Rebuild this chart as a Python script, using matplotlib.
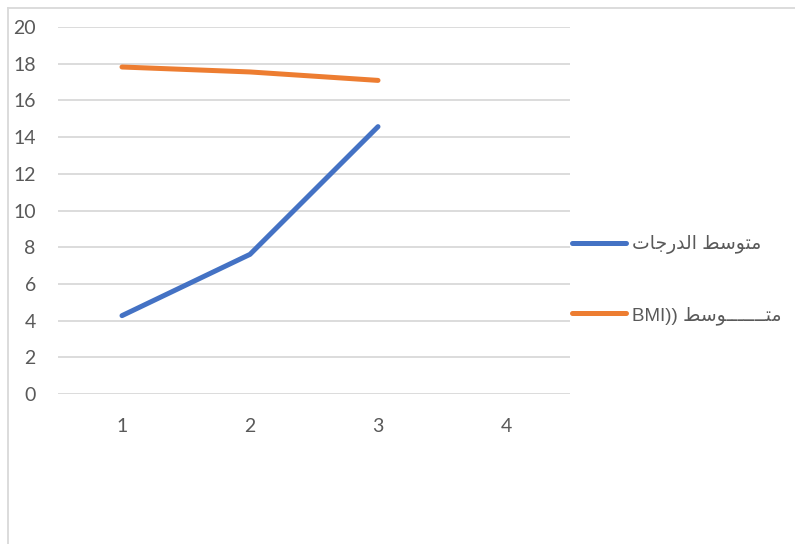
import matplotlib.pyplot as plt
from matplotlib.lines import Line2D

# matplotlib does no Arabic shaping or bidi, so the legend labels are
# written with presentation forms in display (left-to-right) order
series_names = [
    "\ufe95\ufe8e\ufe9f\ufead\ufeaa\ufedf\ufe8d \ufec2\ufeb3\ufeee\ufe98\ufee3",  # متوسط الدرجات
    "BMI)) \ufec2\ufeb3\ufeee" + "\u0640" * 7 + "\ufe98\ufee3",                   # متـــــوسط ((BMI
]
categories = [1, 2, 3, 4]
grades_mean = [4.27, 7.61, 14.57]
bmi_mean = [17.82, 17.55, 17.09]
y_ticks = [0, 2, 4, 6, 8, 10, 12, 14, 16, 18, 20]

BLUE = "#4472c4"
ORANGE = "#ed7d31"
GRID = "#d9d9d9"
TEXT = "#595959"

W, H = 795, 544
fig = plt.figure(figsize=(W / 100, H / 100), dpi=100)

# chart frame, only its left and top edges are visible
fig.add_artist(Line2D([8 / W, 8 / W], [0, 1 - 8 / H], transform=fig.transFigure,
                      color=GRID, lw=1.3))
fig.add_artist(Line2D([8 / W, 1], [1 - 8 / H, 1 - 8 / H], transform=fig.transFigure,
                      color=GRID, lw=1.3))

left, right, top, bottom = 58, 570, 27, 394
ax = fig.add_axes([left / W, 1 - bottom / H, (right - left) / W, (bottom - top) / H])

x = categories[:len(grades_mean)]
ax.plot(x, grades_mean, color=BLUE, lw=3.6, solid_capstyle="round",
        solid_joinstyle="round", label=series_names[0], zorder=3)
ax.plot(x, bmi_mean, color=ORANGE, lw=3.6, solid_capstyle="round",
        solid_joinstyle="round", label=series_names[1], zorder=3)

ax.set_xlim(0.5, len(categories) + 0.5)
ax.set_ylim(0, 20)
ax.set_xticks(categories)
ax.set_yticks(y_ticks)
ax.grid(axis="y", color=GRID, lw=1.3)
ax.set_axisbelow(True)
for s in ax.spines.values():
    s.set_visible(False)
ax.tick_params(length=0, colors=TEXT, labelsize=14)
ax.tick_params(axis="y", pad=16)
ax.tick_params(axis="x", pad=17)
for lab in ax.get_xticklabels() + ax.get_yticklabels():
    lab.set_fontfamily("Lato")

# Latin letters from Liberation Sans, Arabic forms fall back to DejaVu
leg = ax.legend(loc="center left", bbox_to_anchor=(572 / W, 1 - 280 / H),
                bbox_transform=fig.transFigure, frameon=False,
                handlelength=2.9, handletextpad=0.3, labelspacing=2.75,
                borderaxespad=0, borderpad=0,
                prop={"family": ["Liberation Sans", "DejaVu Sans"], "size": 13.5})
for t in leg.get_texts():
    t.set_color(TEXT)
for h in leg.get_lines():
    h.set_linewidth(3.6)
    h.set_solid_capstyle("round")

fig.savefig("out.png", dpi=100)
